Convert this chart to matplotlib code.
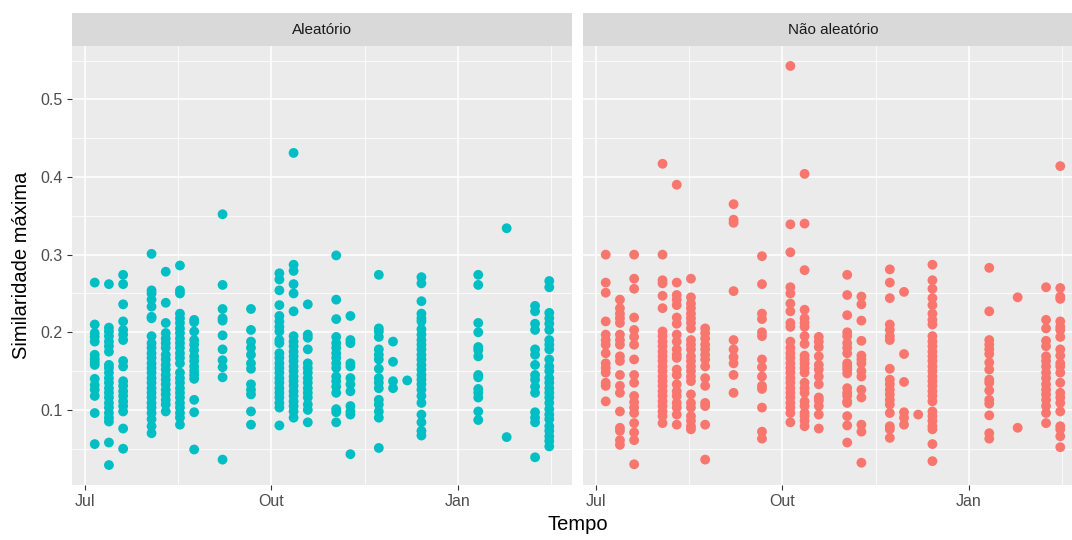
import numpy as np
import pandas as pd
import matplotlib
matplotlib.use("Agg")
import matplotlib.pyplot as plt
import matplotlib.dates as mdates

plt.rcParams['font.family'] = ['Liberation Sans', 'DejaVu Sans']

# maximum similarity per weekly collection date
aleatorio = {
    "2017-07-06": [0.264, 0.210, 0.199, 0.194, 0.188, 0.171, 0.166, 0.162, 0.158, 0.140, 0.132, 0.126, 0.118, 0.096, 0.056],
    "2017-07-13": [0.262, 0.206, 0.201, 0.195, 0.188, 0.182, 0.175, 0.158, 0.154, 0.148, 0.141, 0.135, 0.128, 0.122, 0.116,
                   0.109, 0.103, 0.096, 0.090, 0.085, 0.058, 0.029],
    "2017-07-20": [0.274, 0.262, 0.236, 0.214, 0.203, 0.197, 0.190, 0.163, 0.156, 0.137, 0.131, 0.124, 0.118, 0.111, 0.105,
                   0.098, 0.076, 0.050],
    "2017-08-03": [0.301, 0.254, 0.250, 0.242, 0.233, 0.220, 0.218, 0.195, 0.186, 0.180, 0.173, 0.167, 0.160, 0.154, 0.148,
                   0.141, 0.135, 0.128, 0.122, 0.116, 0.109, 0.103, 0.096, 0.088, 0.079, 0.070],
    "2017-08-10": [0.278, 0.238, 0.212, 0.199, 0.192, 0.186, 0.180, 0.171, 0.165, 0.158, 0.152, 0.145, 0.139, 0.133, 0.126,
                   0.120, 0.113, 0.107, 0.098],
    "2017-08-17": [0.286, 0.254, 0.250, 0.224, 0.218, 0.212, 0.205, 0.199, 0.192, 0.186, 0.180, 0.173, 0.167, 0.160, 0.148,
                   0.141, 0.135, 0.128, 0.122, 0.116, 0.109, 0.103, 0.096, 0.090, 0.081],
    "2017-08-24": [0.216, 0.213, 0.201, 0.190, 0.184, 0.177, 0.169, 0.163, 0.156, 0.150, 0.145, 0.140, 0.113, 0.097, 0.049],
    "2017-09-07": [0.352, 0.261, 0.230, 0.218, 0.215, 0.196, 0.178, 0.164, 0.155, 0.142, 0.036],
    "2017-09-21": [0.230, 0.203, 0.188, 0.180, 0.171, 0.160, 0.153, 0.133, 0.126, 0.120, 0.098, 0.081],
    "2017-10-05": [0.276, 0.268, 0.254, 0.235, 0.221, 0.214, 0.207, 0.201, 0.190, 0.186, 0.173, 0.167, 0.160, 0.154, 0.148,
                   0.141, 0.135, 0.128, 0.122, 0.116, 0.109, 0.103, 0.080],
    "2017-10-12": [0.431, 0.287, 0.279, 0.262, 0.250, 0.227, 0.195, 0.188, 0.182, 0.175, 0.169, 0.163, 0.156, 0.150, 0.143,
                   0.137, 0.131, 0.124, 0.118, 0.111, 0.105, 0.098, 0.090],
    "2017-10-19": [0.236, 0.197, 0.193, 0.178, 0.160, 0.154, 0.148, 0.141, 0.135, 0.128, 0.122, 0.116, 0.107, 0.100, 0.084],
    "2017-11-02": [0.299, 0.242, 0.217, 0.194, 0.186, 0.180, 0.173, 0.167, 0.160, 0.154, 0.143, 0.137, 0.130, 0.122, 0.101,
                   0.097, 0.084],
    "2017-11-09": [0.221, 0.190, 0.186, 0.160, 0.156, 0.141, 0.133, 0.124, 0.105, 0.098, 0.094, 0.043],
    "2017-11-23": [0.274, 0.205, 0.201, 0.194, 0.178, 0.171, 0.165, 0.153, 0.141, 0.135, 0.128, 0.113, 0.107, 0.098, 0.090,
                   0.051],
    "2017-11-30": [0.188, 0.162, 0.137, 0.128],
    "2017-12-07": [0.138],
    "2017-12-14": [0.271, 0.263, 0.240, 0.224, 0.218, 0.214, 0.204, 0.197, 0.190, 0.184, 0.178, 0.171, 0.165, 0.158, 0.152,
                   0.145, 0.139, 0.133, 0.126, 0.118, 0.109, 0.094, 0.084, 0.073, 0.067],
    "2018-01-11": [0.274, 0.261, 0.212, 0.200, 0.181, 0.177, 0.169, 0.145, 0.142, 0.127, 0.122, 0.116, 0.098, 0.087],
    "2018-01-25": [0.334, 0.065],
    "2018-02-08": [0.234, 0.227, 0.211, 0.203, 0.178, 0.171, 0.158, 0.145, 0.139, 0.130, 0.122, 0.097, 0.090, 0.084, 0.039],
    "2018-02-15": [0.266, 0.258, 0.225, 0.218, 0.211, 0.203, 0.190, 0.184, 0.178, 0.165, 0.156, 0.150, 0.141, 0.135, 0.128,
                   0.122, 0.116, 0.109, 0.101, 0.094, 0.088, 0.079, 0.073, 0.066, 0.060, 0.053],
}

nao_aleatorio = {
    "2017-07-06": [0.300, 0.264, 0.251, 0.214, 0.197, 0.190, 0.184, 0.173, 0.160, 0.154, 0.148, 0.135, 0.131, 0.111],
    "2017-07-13": [0.242, 0.231, 0.224, 0.218, 0.212, 0.197, 0.190, 0.184, 0.169, 0.163, 0.145, 0.131, 0.122, 0.098, 0.077,
                   0.073, 0.061, 0.055],
    "2017-07-20": [0.300, 0.269, 0.256, 0.219, 0.203, 0.194, 0.184, 0.165, 0.145, 0.135, 0.118, 0.110, 0.103, 0.096, 0.083,
                   0.071, 0.061, 0.030],
    "2017-08-03": [0.417, 0.300, 0.267, 0.263, 0.247, 0.231, 0.201, 0.195, 0.188, 0.182, 0.175, 0.169, 0.163, 0.156, 0.150,
                   0.143, 0.137, 0.131, 0.124, 0.118, 0.111, 0.105, 0.098, 0.092, 0.083],
    "2017-08-10": [0.390, 0.264, 0.248, 0.242, 0.235, 0.219, 0.211, 0.197, 0.188, 0.178, 0.171, 0.167, 0.152, 0.145, 0.133,
                   0.124, 0.118, 0.109, 0.103, 0.094, 0.081],
    "2017-08-17": [0.269, 0.245, 0.237, 0.231, 0.224, 0.218, 0.212, 0.205, 0.190, 0.184, 0.178, 0.169, 0.163, 0.156, 0.150,
                   0.143, 0.137, 0.120, 0.109, 0.103, 0.092, 0.086, 0.079, 0.075],
    "2017-08-24": [0.205, 0.199, 0.192, 0.184, 0.178, 0.171, 0.165, 0.156, 0.141, 0.131, 0.109, 0.105, 0.081, 0.036],
    "2017-09-07": [0.365, 0.345, 0.341, 0.253, 0.190, 0.178, 0.168, 0.160, 0.145, 0.122],
    "2017-09-21": [0.298, 0.262, 0.224, 0.217, 0.200, 0.195, 0.165, 0.155, 0.143, 0.131, 0.127, 0.103, 0.072, 0.063],
    "2017-10-05": [0.543, 0.339, 0.303, 0.258, 0.250, 0.237, 0.227, 0.212, 0.207, 0.188, 0.180, 0.173, 0.167, 0.160, 0.154,
                   0.148, 0.141, 0.135, 0.128, 0.122, 0.116, 0.109, 0.103, 0.096, 0.084],
    "2017-10-12": [0.404, 0.340, 0.280, 0.229, 0.218, 0.212, 0.207, 0.195, 0.185, 0.170, 0.165, 0.160, 0.154, 0.148, 0.135,
                   0.128, 0.122, 0.111, 0.105, 0.096, 0.092, 0.086, 0.079],
    "2017-10-19": [0.194, 0.188, 0.181, 0.169, 0.158, 0.152, 0.143, 0.133, 0.116, 0.112, 0.105, 0.094, 0.076],
    "2017-11-02": [0.274, 0.248, 0.222, 0.200, 0.195, 0.186, 0.180, 0.173, 0.160, 0.156, 0.152, 0.147, 0.128, 0.122, 0.118,
                   0.111, 0.109, 0.092, 0.080, 0.058],
    "2017-11-09": [0.246, 0.236, 0.215, 0.189, 0.170, 0.165, 0.160, 0.150, 0.143, 0.126, 0.116, 0.081, 0.072, 0.032],
    "2017-11-23": [0.281, 0.264, 0.244, 0.210, 0.203, 0.195, 0.190, 0.153, 0.139, 0.133, 0.126, 0.120, 0.113, 0.107, 0.096,
                   0.079, 0.075, 0.064],
    "2017-11-30": [0.252, 0.172, 0.136, 0.097, 0.090, 0.081],
    "2017-12-07": [0.094],
    "2017-12-14": [0.287, 0.267, 0.256, 0.244, 0.235, 0.224, 0.216, 0.210, 0.195, 0.188, 0.182, 0.175, 0.169, 0.163, 0.156,
                   0.150, 0.143, 0.137, 0.131, 0.124, 0.118, 0.111, 0.098, 0.092, 0.086, 0.079, 0.075, 0.056, 0.034],
    "2018-01-11": [0.283, 0.227, 0.190, 0.184, 0.178, 0.172, 0.161, 0.152, 0.139, 0.135, 0.125, 0.113, 0.108, 0.093, 0.070,
                   0.063],
    "2018-01-25": [0.245, 0.077],
    "2018-02-08": [0.258, 0.216, 0.205, 0.189, 0.182, 0.169, 0.163, 0.156, 0.148, 0.141, 0.133, 0.126, 0.120, 0.113, 0.105,
                   0.096, 0.083],
    "2018-02-15": [0.414, 0.257, 0.246, 0.243, 0.214, 0.207, 0.203, 0.194, 0.178, 0.170, 0.160, 0.156, 0.148, 0.135, 0.122,
                   0.116, 0.109, 0.098, 0.079, 0.075, 0.066, 0.052],
}

painel_titulos = ["Aleatório", "Não aleatório"]
cores = ["#00BFC4", "#F8766D"]
x_ticks = ["2017-07-01", "2017-10-01", "2018-01-01"]
x_tick_labels = ["Jul", "Out", "Jan"]
x_minor = ["2017-08-16", "2017-11-16", "2018-02-16"]
y_ticks = [0.1, 0.2, 0.3, 0.4, 0.5]
y_minor = [0.05, 0.15, 0.25, 0.35, 0.45, 0.55]


def achatar(d):
    xs, ys = [], []
    for data, vals in d.items():
        xs += [pd.Timestamp(data)] * len(vals)
        ys += vals
    return pd.to_datetime(xs), np.array(ys)


W, H = 1072, 540
fig = plt.figure(figsize=(W / 100, H / 100), dpi=100)

# panel geometry in pixels
top, bottom = 46, 485
strip_top = 13
lefts = [72, 583]
pw = 500

todos = list(aleatorio.values()) + list(nao_aleatorio.values())
ymin = min(min(v) for v in todos)
ymax = max(max(v) for v in todos)
yr = ymax - ymin
d0 = pd.Timestamp("2017-07-06")
d1 = pd.Timestamp("2018-02-15")
dr = d1 - d0

for i, (dados, titulo, cor) in enumerate(zip([aleatorio, nao_aleatorio], painel_titulos, cores)):
    x0 = lefts[i] / W
    ax = fig.add_axes([x0, 1 - bottom / H, pw / W, (bottom - top) / H])
    ax.set_facecolor("#EBEBEB")
    for s in ax.spines.values():
        s.set_visible(False)

    xs, ys = achatar(dados)
    ax.scatter(xs, ys, s=50, color=cor, edgecolors="none", zorder=3)

    ax.set_xlim(d0 - dr * 0.05, d1 + dr * 0.05)
    ax.set_ylim(ymin - yr * 0.05, ymax + yr * 0.05)

    ax.set_xticks(pd.to_datetime(x_ticks))
    ax.set_xticklabels(x_tick_labels)
    ax.set_xticks(pd.to_datetime(x_minor), minor=True)
    ax.set_yticks(y_ticks)
    ax.set_yticks(y_minor, minor=True)
    ax.yaxis.set_major_formatter(plt.FuncFormatter(lambda v, p: f"{v:.1f}"))

    ax.grid(which="major", color="white", linewidth=1.1, zorder=0)
    ax.grid(which="minor", color="white", linewidth=0.55, zorder=0)
    ax.set_axisbelow(True)

    ax.tick_params(axis="both", which="major", length=3.5, width=0.8, color="#333333",
                   labelcolor="#4D4D4D", labelsize=11.5, pad=3)
    ax.tick_params(axis="both", which="minor", length=0)
    if i == 1:
        ax.tick_params(axis="y", which="major", length=0, labelleft=False)

    # facet strip
    sx = fig.add_axes([x0, 1 - top / H, pw / W, (top - strip_top) / H])
    sx.set_facecolor("#D9D9D9")
    sx.set_xticks([])
    sx.set_yticks([])
    for s in sx.spines.values():
        s.set_visible(False)
    sx.text(0.5, 0.5, titulo, ha="center", va="center", fontsize=11, color="#1A1A1A",
            transform=sx.transAxes)

fig.text(578 / W, 1 - 525 / H, "Tempo", ha="center", va="center", fontsize=14.5)
fig.text(22 / W, 1 - 265 / H, "Similaridade máxima", ha="center", va="center",
         rotation=90, fontsize=14.5)

fig.savefig("out.png", dpi=100)
